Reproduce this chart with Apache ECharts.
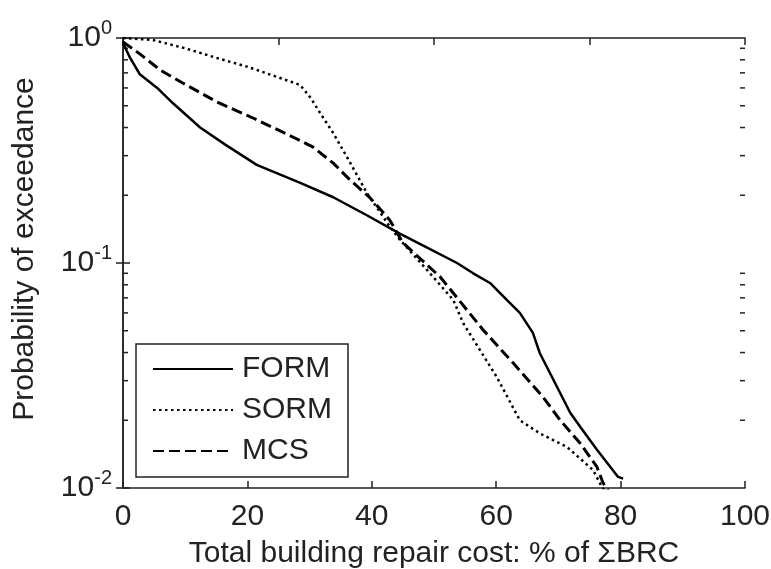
<!DOCTYPE html>
<html lang="en">
<head>
    <meta charset="UTF-8">
    <title>Probability of exceedance</title>
    <style>
        * {
            margin: 0;
            padding: 0;
        }
        .mychart {
            width: 771px;
            height: 569px;
        }
    </style>
</head>
<body>
    <div class="mychart"></div>
</body>
<script src="https://cdn.jsdelivr.net/npm/echarts@6/dist/echarts.min.js"></script>
<script>
    // curves: [repair cost %, probability]
    const formData = [
        [0, 0.95], [1.1, 0.82], [2.7, 0.69], [5.5, 0.6], [8.0, 0.514], [12.4, 0.4], [16.5, 0.335],
        [21.5, 0.273], [28.5, 0.227], [33.8, 0.196], [39.2, 0.163], [44.5, 0.135], [48.9, 0.117],
        [53.7, 0.1], [56.3, 0.09], [59.0, 0.0815], [61.7, 0.0685], [63.8, 0.06],
        [65.9, 0.0489], [67.0, 0.0398], [71.9, 0.0216], [73.5, 0.0187], [76.2, 0.0148],
        [79.6, 0.0112], [80.4, 0.011]
    ]
    const sormData = [
        [0, 1.0], [4.8, 0.98], [10, 0.9], [15.1, 0.815], [20, 0.745], [24.8, 0.671], [28.5, 0.618],
        [30.2, 0.54], [31.7, 0.464], [33.8, 0.378], [36.0, 0.296], [39.2, 0.205], [42.9, 0.145],
        [44.5, 0.127], [48.9, 0.093], [53.1, 0.0685], [54.7, 0.054], [60.1, 0.0311], [63.8, 0.02],
        [67.0, 0.0175], [71.4, 0.0152], [75.6, 0.012], [77.0, 0.0101], [78.0, 0.0093]
    ]
    const mcsData = [
        [0, 0.96], [2.7, 0.85], [6, 0.72], [9.6, 0.631], [15.1, 0.52], [20.9, 0.441], [27.3, 0.363],
        [30.5, 0.328], [33.8, 0.278], [36.5, 0.234], [39.7, 0.195], [42.9, 0.155],
        [45.0, 0.123], [51.0, 0.0867], [57.9, 0.0504], [62.7, 0.036], [67.5, 0.0254],
        [70.3, 0.02], [73.5, 0.0158], [76.2, 0.0124], [77.2, 0.0105], [78.3, 0.0095]
    ]
    const seriesNames = ['FORM', 'SORM', 'MCS']
    // log minor ticks (2..9 of each decade)
    const minorTicks = [0.02, 0.03, 0.04, 0.05, 0.06, 0.07, 0.08, 0.09,
        0.2, 0.3, 0.4, 0.5, 0.6, 0.7, 0.8, 0.9]

    const ink = '#222'
    const font = 'Liberation Sans, Arial, sans-serif'

    const myChart = echarts.init(document.querySelector('.mychart'))

    const frame = {
        axisLine: { show: true, lineStyle: { color: ink, width: 1.5 } },
        axisTick: { show: true, inside: true, length: 7, lineStyle: { color: ink, width: 1.5 } },
        splitLine: { show: false }
    }

    const config = {
        animation: false,
        color: ['#000', '#000', '#000'],
        grid: { left: 123, top: 38, right: 26, bottom: 81, containLabel: false, outerBoundsMode: 'none' },
        legend: {
            data: seriesNames,
            orient: 'vertical',
            left: 136,
            top: 344,
            padding: [10, 16, 11, 16],
            itemWidth: 80,
            itemHeight: 14,
            itemGap: 11,
            backgroundColor: '#fff',
            borderColor: ink,
            borderWidth: 1.5,
            borderRadius: 0,
            itemStyle: { opacity: 0 },
            textStyle: { fontFamily: font, fontSize: 30, lineHeight: 30, color: ink, padding: [0, 0, 0, 4] }
        },
        xAxis: [{
            type: 'value', min: 0, max: 100, interval: 20, position: 'bottom',
            ...frame,
            axisLabel: { margin: 14, fontFamily: font, fontSize: 30, color: ink },
            name: 'Total building repair cost: % of ΣBRC',
            nameLocation: 'middle',
            nameGap: 51,
            nameTextStyle: { fontFamily: font, fontSize: 30, color: ink }
        }, {
            type: 'value', min: 0, max: 100, interval: 25, position: 'top',
            ...frame,
            axisLabel: { show: false }
        }],
        yAxis: [{
            type: 'log', logBase: 10, min: 0.01, max: 1, position: 'left',
            ...frame,
            axisLabel: {
                margin: 11,
                formatter: v => '{b|10}{s|' + Math.round(Math.log10(v)) + '}',
                rich: {
                    b: { fontFamily: font, fontSize: 30, color: ink, lineHeight: 40 },
                    s: { fontFamily: font, fontSize: 20, color: ink, verticalAlign: 'top', lineHeight: 40 }
                }
            },
            name: 'Probability of exceedance',
            nameLocation: 'middle',
            nameGap: 83,
            nameTextStyle: { fontFamily: font, fontSize: 30, color: ink, padding: [0, 0, 0, 28] }
        }, {
            type: 'log', logBase: 10, min: 0.01, max: 1, position: 'right',
            ...frame,
            axisLabel: { show: false }
        }],
        series: [{
            name: 'FORM', type: 'line', data: formData, symbol: 'none',
            lineStyle: { color: '#000', width: 2.5, type: 'solid' }
        }, {
            name: 'SORM', type: 'line', data: sormData, symbol: 'none',
            lineStyle: { color: '#000', width: 2.5, type: [2.5, 3.5] }
        }, {
            name: 'MCS', type: 'line', data: mcsData, symbol: 'none',
            lineStyle: { color: '#000', width: 3, type: [11, 5] }
        }, {
            // minor ticks on the log axis, both sides
            type: 'custom', silent: true,
            data: minorTicks.map(v => [0, v]),
            renderItem: (params, api) => {
                const v = api.value(1)
                const l = api.coord([0, v])
                const r = api.coord([100, v])
                const st = { stroke: ink, lineWidth: 1.5 }
                return {
                    type: 'group',
                    children: [
                        { type: 'line', shape: { x1: l[0], y1: l[1], x2: l[0] + 5, y2: l[1] }, style: st },
                        { type: 'line', shape: { x1: r[0], y1: r[1], x2: r[0] - 5, y2: r[1] }, style: st }
                    ]
                }
            }
        }]
    }

    myChart.setOption(config)
</script>
</html>
